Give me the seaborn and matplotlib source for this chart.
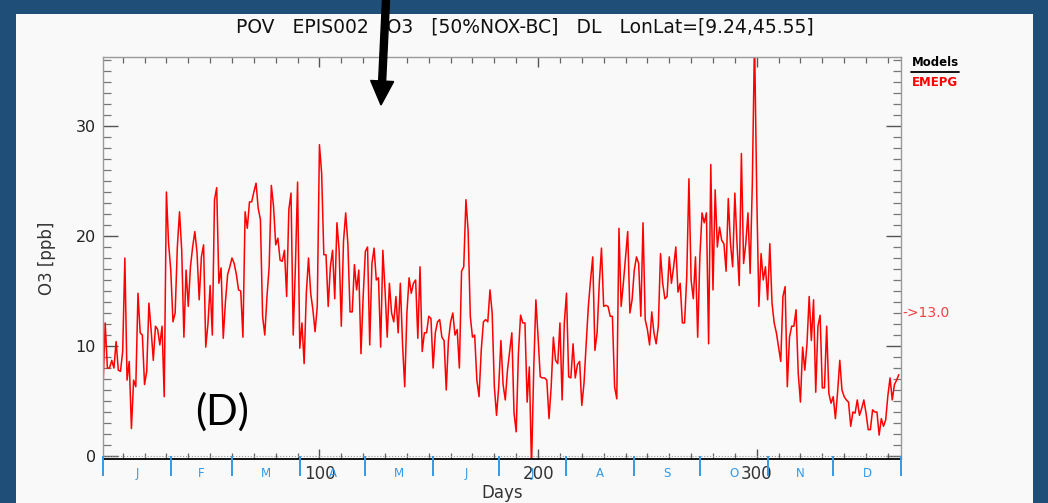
import numpy as np
import pandas as pd
import matplotlib
matplotlib.use("Agg")
import matplotlib.pyplot as plt
from matplotlib.patches import Rectangle, FancyArrow
from matplotlib.transforms import IdentityTransform
from matplotlib.ticker import MultipleLocator, FixedLocator
import seaborn as sns

# daily O3 (ppb), rows of 10 days
o3 = [
    6.2, 12.1, 8.0, 8.0, 8.7, 8.0, 10.4, 7.8, 7.7, 9.5,
    18.0, 6.9, 8.6, 2.5, 6.9, 6.3, 14.8, 11.2, 11.0, 6.5,
    7.7, 13.9, 11.5, 8.7, 11.8, 11.5, 10.1, 11.8, 5.4, 24.0,
    19.3, 16.9, 12.2, 13.0, 19.0, 22.2, 18.7, 10.8, 16.9, 13.6,
    17.2, 19.0, 20.4, 18.5, 14.2, 18.1, 19.2, 9.9, 12.0, 15.5,
    11.0, 23.3, 24.4, 15.7, 17.1, 10.7, 14.0, 16.5, 17.2, 18.0,
    17.5, 16.5, 15.1, 15.0, 10.8, 22.2, 20.7, 23.1, 23.1, 24.0,
    24.8, 22.5, 21.5, 12.7, 11.0, 14.5, 17.2, 24.6, 22.7, 19.2,
    19.8, 17.8, 17.7, 18.7, 14.5, 22.4, 23.9, 11.0, 17.2, 24.9,
    9.8, 12.1, 8.4, 14.8, 18.0, 14.8, 13.3, 11.3, 13.6, 28.3,
    25.7, 18.3, 18.3, 13.6, 17.2, 18.7, 14.3, 21.2, 18.7, 11.8,
    19.5, 22.1, 19.3, 13.1, 13.1, 17.4, 15.1, 16.9, 9.3, 14.5,
    18.6, 19.0, 10.1, 17.5, 18.9, 16.0, 16.2, 9.9, 18.7, 15.1,
    10.8, 15.7, 13.0, 12.2, 14.5, 11.2, 15.7, 10.2, 6.3, 13.0,
    16.2, 14.8, 15.7, 16.0, 10.7, 17.2, 9.5, 11.2, 11.2, 12.7,
    12.5, 8.0, 11.2, 12.2, 12.4, 10.8, 10.5, 6.0, 10.5, 12.2,
    13.0, 11.0, 11.5, 8.0, 16.8, 17.2, 23.3, 20.5, 12.7, 10.8,
    11.0, 6.9, 5.4, 9.6, 12.2, 12.4, 12.2, 15.1, 13.0, 6.3,
    3.7, 6.3, 10.5, 6.5, 5.1, 7.8, 9.5, 11.2, 3.9, 2.2,
    9.3, 12.8, 12.1, 12.1, 4.9, 8.1, -1.0, 7.8, 14.2, 10.8,
    7.2, 7.1, 7.1, 6.9, 3.4, 6.3, 10.8, 8.7, 8.4, 12.1,
    5.1, 12.1, 14.8, 7.2, 7.1, 10.2, 7.1, 8.3, 8.6, 4.6,
    6.6, 10.2, 13.6, 16.0, 18.1, 9.6, 11.2, 15.7, 18.9, 13.6,
    13.7, 13.6, 12.7, 12.7, 6.3, 5.2, 20.7, 13.6, 15.7, 18.1,
    20.4, 13.0, 14.2, 16.9, 18.1, 17.5, 12.7, 21.2, 12.4, 11.5,
    10.1, 13.1, 11.2, 10.2, 11.8, 18.4, 15.7, 14.3, 14.5, 18.1,
    15.7, 17.2, 19.0, 14.9, 15.7, 12.1, 12.1, 16.3, 25.2, 16.0,
    14.3, 18.1, 10.8, 18.1, 22.1, 21.2, 22.1, 10.2, 26.5, 15.1,
    24.2, 19.0, 20.8, 19.6, 19.3, 16.8, 23.4, 19.3, 17.2, 23.9,
    19.3, 15.5, 27.5, 17.5, 19.3, 22.1, 16.6, 24.8, 38.0, 24.0,
    13.6, 18.4, 16.0, 17.2, 14.2, 19.3, 13.9, 12.1, 11.2, 9.9,
    8.6, 14.5, 15.4, 6.3, 10.8, 11.8, 11.8, 13.3, 7.5, 4.9,
    9.9, 7.8, 10.2, 14.5, 10.5, 14.2, 5.8, 11.8, 12.8, 6.2,
    6.2, 11.8, 5.7, 4.8, 5.4, 3.4, 5.8, 8.7, 6.0, 5.4,
    5.1, 4.9, 2.7, 4.0, 3.9, 5.1, 3.7, 4.3, 5.1, 3.9,
    2.4, 2.4, 4.2, 4.0, 4.0, 1.9, 3.4, 2.7, 3.3, 5.5,
    7.1, 5.1, 6.5, 6.9, 7.4,
]
days = np.arange(1, len(o3) + 1)

months = ["J", "F", "M", "A", "M", "J", "J", "A", "S", "O", "N", "D"]
month_starts = [1, 32, 60, 91, 121, 152, 182, 213, 244, 274, 305, 335, 366]
day_ticks = [100, 200, 300]
y_ticks = [0, 10, 20, 30]

title = "POV   EPIS002   O3   [50%NOX-BC]   DL   LonLat=[9.24,45.55]"
mean_label = "->13.0"

df = pd.DataFrame({"day": days, "o3": o3})

sns.set_style("ticks")
plt.rcParams["font.family"] = ["DejaVu Sans"]

fig = plt.figure(figsize=(10.48, 5.03), dpi=100)
fig.patch.set_facecolor("#1f4e79")
panel = Rectangle((16 / 1048, 0), (1033 - 16) / 1048, (503 - 14) / 503,
                  transform=fig.transFigure, facecolor="#f9f9f9", edgecolor="none", zorder=-1)
fig.patches.append(panel)

ax = fig.add_axes([103 / 1048, 1 - 459 / 503, (901 - 103) / 1048, (459 - 57) / 503])
ax.set_facecolor("#f9f9f9")

sns.lineplot(data=df, x="day", y="o3", color="red", linewidth=1.1, ax=ax)
ax.axhline(0, color="#999999", lw=0.8, ls=":", zorder=1)

ax.set_xlim(1, 366)
ax.set_ylim(-0.27, 36.27)

for side in ["left", "right", "top"]:
    ax.spines[side].set_color("#9a9a9a")
    ax.spines[side].set_linewidth(1.0)
ax.spines["bottom"].set_color("black")
ax.spines["bottom"].set_linewidth(1.3)

ax.yaxis.set_major_locator(FixedLocator(y_ticks))
ax.yaxis.set_minor_locator(MultipleLocator(1))
ax.xaxis.set_major_locator(FixedLocator(day_ticks))
ax.xaxis.set_minor_locator(MultipleLocator(10))
ax.tick_params(axis="y", which="major", direction="in", length=11, width=1.0,
               color="#555555", left=True, right=True, labelsize=11.5, pad=5, labelcolor="#222222")
ax.tick_params(axis="y", which="minor", direction="in", length=6, width=0.9,
               color="#777777", left=True, right=True)
ax.tick_params(axis="x", which="major", direction="in", length=7, width=1.0,
               color="#555555", top=True, bottom=True, labelsize=12, pad=4, labelcolor="#333333")
ax.tick_params(axis="x", which="minor", direction="in", length=4, width=0.9,
               color="#666666", top=True, bottom=True)

ax.set_xlabel("Days", fontsize=12, color="#333333", labelpad=1)
ax.set_ylabel("O3 [ppb]", fontsize=12, color="#333333", labelpad=14)

# month boundaries and letters
blue = "#3399e6"
ax.vlines(month_starts, -0.042, 0.008, transform=ax.get_xaxis_transform(),
          colors=blue, lw=1.4, clip_on=False, zorder=5)
centers = [(a + b) / 2 for a, b in zip(month_starts[:-1], month_starts[1:])]
for c, m in zip(centers, months):
    ax.text(c, -0.035, m, transform=ax.get_xaxis_transform(), ha="center", va="center",
            fontsize=8.5, color=blue)

fig.text(525 / 1048, 1 - 27 / 503, title, ha="center", va="center", fontsize=13.5, color="#111111")

# legend block on the right
fig.text(912 / 1048, 1 - 63 / 503, "Models", ha="left", va="center", fontsize=8.5,
         fontweight="bold", color="black")
fig.add_artist(plt.Line2D([911 / 1048, 959 / 1048], [1 - 72 / 503, 1 - 72 / 503],
                          transform=fig.transFigure, color="black", lw=1.3))
fig.text(912 / 1048, 1 - 83 / 503, "EMEPG", ha="left", va="center", fontsize=8.5,
         fontweight="bold", color="red")
ax.text(1.002, 13.0, mean_label, transform=ax.get_yaxis_transform(), ha="left", va="center",
        fontsize=10, color="#f04040", clip_on=False)

ax.text(222 / 1048, 1 - 412 / 503, "(D)", transform=fig.transFigure, ha="center", va="center",
        fontsize=30, color="black", family=["Lato", "DejaVu Sans"])

arrow = FancyArrow(386, 503, -5, -105, width=7, head_width=23, head_length=24,
                   length_includes_head=True, color="black", transform=IdentityTransform(), zorder=10)
fig.patches.append(arrow)

fig.savefig("out.png", dpi=100, facecolor=fig.get_facecolor())
